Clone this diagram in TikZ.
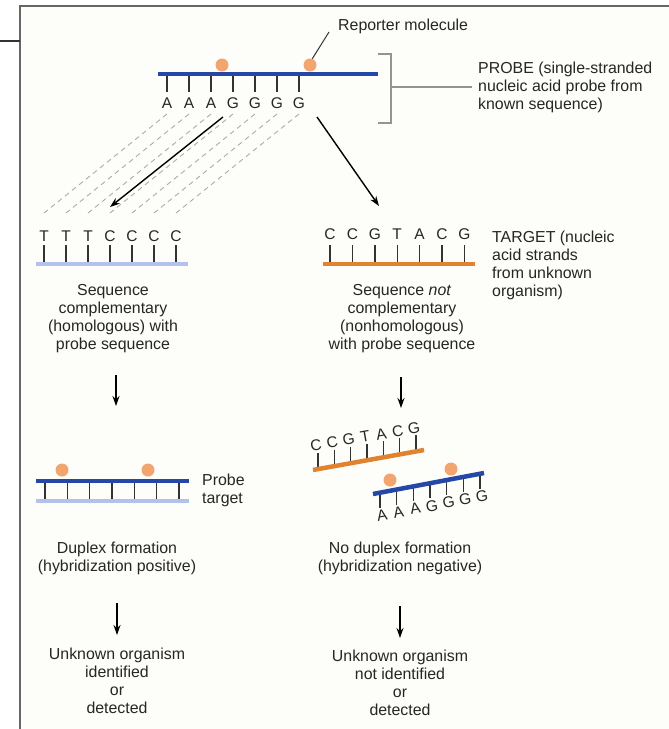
\documentclass[tikz,border=0pt]{standalone}
\usepackage{fontspec}
\setmainfont{Liberation Sans}
\usetikzlibrary{arrows.meta,calc}
\definecolor{probeblue}{HTML}{2547A6}
\definecolor{lightblue}{HTML}{B2C2EC}
\definecolor{targetorange}{HTML}{E0822E}
\definecolor{dotorange}{HTML}{F2A56E}
\definecolor{framegray}{HTML}{666666}
\definecolor{bgcream}{HTML}{FDFDFA}
\begin{document}
\begin{tikzpicture}[x=1pt,y=-1pt,
  txt/.style={font=\fontsize{15.9}{18}\selectfont, align=center, inner sep=0pt, text=black!85},
  seqltr/.style={font=\fontsize{15.5}{18}\selectfont, inner sep=0pt, text=black!85},
  basetick/.style={line width=1.4pt, black!80},
  arr/.style={line width=1.4pt, black, -{Stealth[length=10pt,width=7pt]}},
  dashln/.style={gray!65, dash pattern=on 5pt off 4pt, line width=0.9pt},
  dot/.style={circle, fill=dotorange, inner sep=0pt, minimum size=13pt},
  strand/.style={line width=4.5pt},
]
\useasboundingbox (0,0) rectangle (669,729);
\fill[white] (0,0) rectangle (669,729);
\fill[bgcream] (20,6) rectangle (669,729);
% frame
\draw[framegray, line width=1.5pt] (669,6) -- (20,6) -- (20,729);
\draw[black!80, line width=1.2pt] (0,41) -- (20,41);

% ---------- probe ----------
\draw[strand, probeblue] (158,74) -- (378,74);
\foreach \l [count=\i] in {A,A,A,G,G,G,G}{
  \draw[basetick] ({167+22*(\i-1)},76) -- ({167+22*(\i-1)},92);
  \node[seqltr] (p\i) at ({167+22*(\i-1)},103) {\l};
}
\node[dot] (d1) at (222,65) {};
\node[dot] (d2) at (310,65) {};
\node[txt, anchor=west] (rep) at (338,26) {Reporter molecule};
\draw[black!80, line width=1pt] (d2.70) -- ($(rep.west)+(-9,6)$);

% bracket
\draw[gray!85, line width=1.3pt] (378,54) -| (391,123) -- (378,123);
\node[txt, anchor=west, align=left] (probetxt) at (478,87) {PROBE (single-stranded\\nucleic acid probe from\\known sequence)};
\draw[gray!85, line width=1.3pt] (391,87) -- ($(probetxt.west)+(-6,0)$);

% ---------- targets ----------
\foreach \l [count=\i] in {T,T,T,C,C,C,C}{
  \draw[basetick] ({44+22*(\i-1)},245) -- ({44+22*(\i-1)},262);
  \node[seqltr] (t\i) at ({44+22*(\i-1)},236) {\l};
}
\draw[strand, lightblue] (36,264) -- (188,264);

\foreach \l [count=\i] in {C,C,G,T,A,C,G}{
  \draw[basetick] ({330+22.4*(\i-1)},245) -- ({330+22.4*(\i-1)},262);
  \node[seqltr] (u\i) at ({330+22.4*(\i-1)},234) {\l};
}
\draw[strand, targetorange] (323,264) -- (475,264);

% dashed alignment lines
\foreach \i in {1,...,7}{
  \draw[dashln] ($(p\i)+(0,11)$) -- ($(t\i)+(0,-23)$);
}

% arrows from probe
\coordinate (la0) at (223,117);
\coordinate (la1) at (110,207);
\draw[arr] (la0) -- (la1);
\coordinate (ra0) at (317,117);
\coordinate (ra1) at (379,206);
\draw[arr] (ra0) -- (ra1);

\node[txt, anchor=west, align=left] (targettxt) at (492,265) {TARGET (nucleic\\acid strands\\from unknown\\organism)};

\node[txt] (lt1) at (113,319) {Sequence\\complementary\\(homologous) with\\probe sequence};
\node[txt] (rt1) at (402,319) {Sequence \textit{not}\\complementary\\(nonhomologous)\\with probe sequence};

\coordinate (la2) at (116,375);
\coordinate (la3) at (116,406);
\draw[arr] (la2) -- (la3);
\coordinate (ra2) at (401,377);
\coordinate (ra3) at (401,408);
\draw[arr] (ra2) -- (ra3);

% ---------- duplex (left) ----------
\draw[strand, probeblue] (36,481) -- (189,481);
\draw[strand, lightblue] (36,501) -- (189,501);
\foreach \i in {1,...,7}{
  \draw[basetick] ({45+22.3*(\i-1)},483) -- ({45+22.3*(\i-1)},499);
}
\node[dot] (d3) at (62,470) {};
\node[dot] (d4) at (148,470) {};
\node[txt, anchor=west, align=left] (pt) at (202,490.5) {Probe\\target};

% ---------- no duplex (right) ----------
\coordinate (oA) at (313,470);
\coordinate (oB) at (424,450);
\foreach \l [count=\i] in {C,C,G,T,A,C,G}{
  \coordinate (ot\i) at ($(oA)!{0.045+0.147*(\i-1)}!(oB)$);
  \draw[basetick] (ot\i) -- ($(ot\i)+(0,-16)$);
  \node[seqltr, rotate=10, anchor=south] (v\i) at ($(ot\i)+(-1,-18)$) {\l};
}
\draw[strand, targetorange] (oA) -- (oB);

\coordinate (bA) at (373,494);
\coordinate (bB) at (484,473);
\foreach \l [count=\i] in {A,A,A,G,G,G,G}{
  \coordinate (bt\i) at ($(bA)!{0.063+0.15*(\i-1)}!(bB)$);
  \draw[basetick] (bt\i) -- ($(bt\i)+(0,15)$);
  \node[seqltr, rotate=10, anchor=north] (w\i) at ($(bt\i)+(1,17)$) {\l};
}
\draw[strand, probeblue] (bA) -- (bB);
\node[dot] (d5) at (390,480) {};
\node[dot] (d6) at (451,469) {};

% ---------- results ----------
\node[txt] (lres) at (117,558) {Duplex formation\\(hybridization positive)};
\node[txt] (rres) at (400,558.5) {No duplex formation\\(hybridization negative)};

\coordinate (la4) at (117,603);
\coordinate (la5) at (117,635);
\draw[arr] (la4) -- (la5);
\coordinate (ra4) at (400,606);
\coordinate (ra5) at (400,638);
\draw[arr] (ra4) -- (ra5);

\node[txt] (lfin) at (117,680.5) {Unknown organism\\identified\\or\\detected};
\node[txt] (rfin) at (400,682.5) {Unknown organism\\not identified\\or\\detected};
\end{tikzpicture}
\end{document}
